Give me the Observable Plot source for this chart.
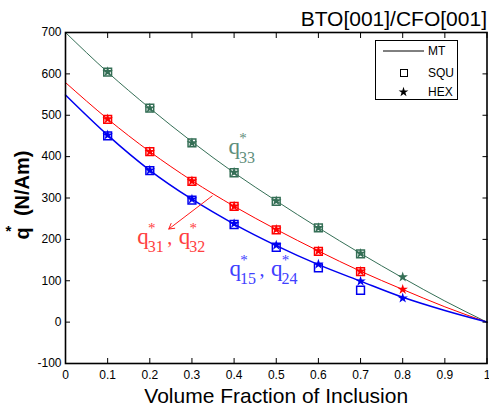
<!DOCTYPE html>
<html><head><meta charset="utf-8">
<script src="https://cdn.jsdelivr.net/npm/d3@7"></script>
<script src="https://cdn.jsdelivr.net/npm/@observablehq/plot@0.6"></script>
<style>
body{margin:0;background:#fff;}
#wrap{position:relative;width:489px;height:412px;font-family:Arial,"Liberation Sans",sans-serif;}
#legend{position:absolute;left:375px;top:40px;width:83px;height:60px;box-sizing:border-box;border:1.3px solid #000;background:#fff;}
</style></head><body><div id="wrap"></div>
<script>
// ---- data ----
const title = "BTO[001]/CFO[001]";
const xLabel = "Volume Fraction of Inclusion";
const yLabel = "q\u00a0\u00a0(N/Am)";
const xTicks = [0, 0.1, 0.2, 0.3, 0.4, 0.5, 0.6, 0.7, 0.8, 0.9, 1];
const yTicks = [-100, 0, 100, 200, 300, 400, 500, 600, 700];

const seriesKeys = ["q33", "q31", "q15"];
const seriesColors = ["#356f56", "#ff0000", "#0000f0"];
const labelColors = ["#5f8e7c", "#ff4040", "#4040ff"];
const lineWidths = [1, 1, 1.5];

// MT (lines)
const mtX = [0, 0.1, 0.2, 0.3, 0.4, 0.5, 0.6, 0.7, 0.8, 0.9, 1];
const mtQ33 = [700, 604, 517, 436, 361, 293, 228, 166, 107, 51, 0];
const mtQ31 = [579, 491, 412, 342, 280, 224, 172, 123, 79, 37, 0];
const mtQ15 = [549, 452, 367, 297, 237, 185, 139, 99, 60, 28, 0];

// SQU (squares)
const squX = [0.1, 0.2, 0.3, 0.4, 0.5, 0.6, 0.7];
const squQ33 = [604, 517, 433, 361, 292, 228, 165];
const squQ31 = [490, 412, 340, 280, 223, 171, 122];
const squQ15 = [450, 366, 295, 236, 181, 131, 77];

// HEX (stars)
const hexX = [0.1, 0.2, 0.3, 0.4, 0.5, 0.6, 0.7, 0.8];
const hexQ33 = [605, 517, 433, 362, 293, 228, 166, 109];
const hexQ31 = [491, 412, 341, 280, 224, 172, 123, 79];
const hexQ15 = [452, 367, 297, 238, 186, 140, 99, 58];

// annotations (data coordinates of the first "q" baseline)
const labelX = [0.387, 0.170, 0.389];
const labelY = [406, 189, 112];
const labelSubs = [["33"], ["31", "32"], ["15", "24"]];
const arrowFrom = [0.348, 305];
const arrowTo = [0.245, 225];

const legendNames = ["MT", "SQU", "HEX"];

// ---- build ----
const mtY = [mtQ33, mtQ31, mtQ15];
const squY = [squQ33, squQ31, squQ15];
const hexY = [hexQ33, hexQ31, hexQ15];

const marks = [];
const serif = "'Liberation Serif','Times New Roman',serif";

seriesKeys.forEach((k, i) => {
  marks.push(Plot.line(mtX.map((x, j) => ({x, y: mtY[i][j]})), {
    x: "x", y: "y", stroke: seriesColors[i], strokeWidth: lineWidths[i], curve: "monotone-x"
  }));
});
seriesKeys.forEach((k, i) => {
  marks.push(Plot.dot(squX.map((x, j) => ({x, y: squY[i][j]})), {
    x: "x", y: "y", symbol: "square", r: 4.4, stroke: seriesColors[i], strokeWidth: 1.5, fill: "none"
  }));
});
seriesKeys.forEach((k, i) => {
  marks.push(Plot.dot(hexX.map((x, j) => ({x, y: hexY[i][j]})), {
    x: "x", y: "y", symbol: "star", r: 3.3, fill: seriesColors[i], stroke: "none"
  }));
});

// annotation labels
seriesKeys.forEach((k, i) => {
  const d = [{x: labelX[i], y: labelY[i]}];
  const base = {x: "x", y: "y", fill: labelColors[i], fontFamily: serif, textAnchor: "start", lineAnchor: "bottom"};
  labelSubs[i].forEach((s, j) => {
    const off = j * 41.5;
    marks.push(Plot.text(d, {...base, text: () => "q", fontSize: 23, dx: off}));
    marks.push(Plot.text(d, {...base, text: () => s, fontSize: 16, dx: off + 10.5, dy: 8.5}));
    marks.push(Plot.text(d, {...base, text: () => "*", fontSize: 15, textAnchor: "middle", dx: off + 14.5, dy: -11}));
    if (j > 0) marks.push(Plot.text(d, {...base, text: () => ",", fontSize: 20, dx: 30}));
  });
});

marks.push(Plot.arrow([{x1: arrowFrom[0], y1: arrowFrom[1], x2: arrowTo[0], y2: arrowTo[1]}], {
  x1: "x1", y1: "y1", x2: "x2", y2: "y2", stroke: "#ff1a1a", strokeWidth: 1, headLength: 9, bend: 0
}));

// axes (inward ticks on all sides)
marks.push(Plot.axisX(xTicks, {anchor: "bottom", tickSize: -5, tickPadding: 12, fontSize: 12, tickFormat: d => String(d), label: null}));
marks.push(Plot.axisX(xTicks, {anchor: "top", tickSize: -5, tickFormat: () => "", label: null}));
marks.push(Plot.axisY(yTicks, {anchor: "left", tickSize: -5, tickPadding: 9, fontSize: 12, tickFormat: d => String(d), label: null}));
marks.push(Plot.axisY(yTicks, {anchor: "right", tickSize: -5, tickFormat: () => "", label: null}));
marks.push(Plot.frame({stroke: "#000", strokeWidth: 1.6}));

// title and axis labels
marks.push(Plot.text([title], {text: d => d, frameAnchor: "top-right", textAnchor: "end", lineAnchor: "bottom", dy: -6.5, dx: 0, fontSize: 21, fill: "#000"}));
marks.push(Plot.text([xLabel], {text: d => d, frameAnchor: "bottom", textAnchor: "middle", lineAnchor: "bottom", dy: 39, fontSize: 21, fill: "#000"}));
marks.push(Plot.text([yLabel], {text: d => d, frameAnchor: "left", rotate: -90, textAnchor: "middle", lineAnchor: "middle", dx: -43, dy: -3, fontSize: 20, fontWeight: "bold", fill: "#000"}));
marks.push(Plot.text(["*"], {text: d => d, frameAnchor: "left", lineAnchor: "middle", textAnchor: "middle", dx: -57, dy: 33, fontSize: 15, fontWeight: "bold", fill: "#000"}));

const chart = Plot.plot({
  width: 489, height: 412,
  marginLeft: 65, marginRight: 2.5, marginTop: 32, marginBottom: 49,
  x: {domain: [0, 1], axis: null},
  y: {domain: [-100, 700], axis: null},
  style: {background: "white", color: "black", fontFamily: "Arial, 'Liberation Sans', sans-serif", overflow: "visible"},
  marks
});
const wrap = document.getElementById("wrap");
wrap.appendChild(chart);

// legend overlay
const leg = d3.select(wrap).append("div").attr("id", "legend");
const ls = leg.append("svg").attr("width", 81).attr("height", 58).style("display", "block");
const rowsY = [10, 32, 51];
ls.append("line").attr("x1", 7).attr("x2", 48).attr("y1", rowsY[0]).attr("y2", rowsY[0]).attr("stroke", "#000").attr("stroke-width", 1);
ls.append("rect").attr("x", 24.5).attr("y", rowsY[1] - 3.5).attr("width", 7).attr("height", 7).attr("fill", "none").attr("stroke", "#000").attr("stroke-width", 1);
ls.append("path").attr("d", d3.symbol(d3.symbolStar, 30)()).attr("transform", `translate(27.5,${rowsY[2]})`).attr("fill", "#000");
legendNames.forEach((n, i) => {
  ls.append("text").attr("x", 52).attr("y", rowsY[i]).attr("dy", "0.35em").attr("font-size", 12).attr("font-family", "Arial, 'Liberation Sans', sans-serif").text(n);
});
</script>
</body></html>
